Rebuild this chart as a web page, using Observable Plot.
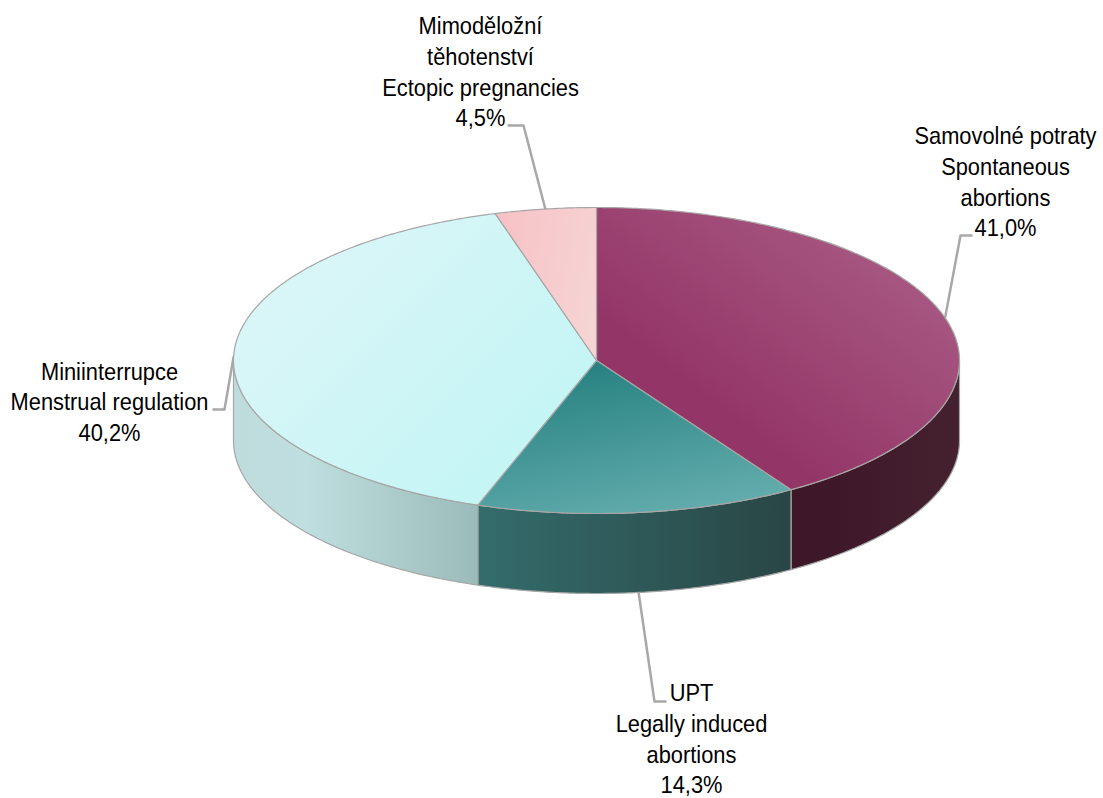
<!DOCTYPE html>
<html>
<head>
<meta charset="utf-8">
<style>html,body{margin:0;padding:0;background:#fff}svg{display:block}</style>
<script src="https://cdn.jsdelivr.net/npm/d3@7"></script>
<script src="https://cdn.jsdelivr.net/npm/@observablehq/plot@0.6"></script>
</head>
<body>
<div id="chart"></div>
<script>
// Data
const labels = [
  "Samovolné potraty\nSpontaneous\nabortions\n41,0%",
  "UPT\nLegally induced\nabortions\n14,3%",
  "Miniinterrupce\nMenstrual regulation\n40,2%",
  "Mimoděložní\ntěhotenství\nEctopic pregnancies\n4,5%"
];
const values = [41.0, 14.3, 40.2, 4.5];
const keys = ["maroon", "teal", "cyan", "pink"];

// Layout (pie geometry in chart pixels)
const cx = 596, cy = 360, rx = 363, ry = 153, depth = 80;
const labelX = [1005, 691, 109, 480];
const labelY = [180, 737, 400, 70];
const elbowX = [960, 654, 224, 523];
const elbowY = [235, 701, 409, 125];
const tailX = [971, 665, 213, 508];
const leaderOnSide = [false, true, false, false];
const textSqueeze = 0.91;

const total = d3.sum(values);
const px = a => cx + rx * Math.sin(a);
const py = a => cy - ry * Math.cos(a);
const toRad = v => (v / total) * 2 * Math.PI;

let acc = 0;
const slices = values.map((v, i) => {
  const a0 = toRad(acc); acc += v; const a1 = toRad(acc);
  return {key: keys[i], a0, a1, mid: (a0 + a1) / 2};
});

function arc(a0, a1, dy = 0) {
  const n = Math.max(2, Math.ceil((a1 - a0) / 0.01));
  return d3.range(n + 1).map(k => {
    const a = a0 + (a1 - a0) * k / n;
    return {x: px(a), y: py(a) + dy};
  });
}
function topFace(s) {
  const c = {x: cx, y: cy};
  return [c, ...arc(s.a0, s.a1), c];
}
function sideFace(s) {
  const a0 = Math.max(s.a0, Math.PI / 2), a1 = Math.min(s.a1, 3 * Math.PI / 2);
  if (a1 <= a0) return null;
  const t = arc(a0, a1), b = arc(a0, a1, depth).reverse();
  return [...t, ...b, t[0]];
}

const defs = () => d3.create("svg:defs").html(`
  <linearGradient id="top-maroon" x1="0.15" y1="0.95" x2="1" y2="0.1">
    <stop offset="0.25" stop-color="#943568"/><stop offset="0.8" stop-color="#a5557f"/></linearGradient>
  <linearGradient id="top-teal" x1="0.2" y1="0" x2="0.6" y2="1">
    <stop offset="0" stop-color="#237f7e"/><stop offset="1" stop-color="#62abac"/></linearGradient>
  <linearGradient id="top-cyan" x1="0" y1="0.1" x2="1" y2="0.9">
    <stop offset="0" stop-color="#def6f8"/><stop offset="0.8" stop-color="#c6f5f5"/></linearGradient>
  <linearGradient id="top-pink" x1="0" y1="0.3" x2="1" y2="0.6">
    <stop offset="0" stop-color="#f7c2c6"/><stop offset="1" stop-color="#f6d4d4"/></linearGradient>
  <linearGradient id="side-maroon" x1="0" y1="0" x2="1" y2="0">
    <stop offset="0.2" stop-color="#3e1728"/><stop offset="1" stop-color="#45212f"/></linearGradient>
  <linearGradient id="side-teal" x1="0" y1="0" x2="1" y2="0">
    <stop offset="0" stop-color="#346c6c"/><stop offset="1" stop-color="#294645"/></linearGradient>
  <linearGradient id="side-cyan" x1="0" y1="0" x2="1" y2="0">
    <stop offset="0" stop-color="#bfdcdd"/><stop offset="0.3" stop-color="#bfdedf"/><stop offset="1" stop-color="#9abbba"/></linearGradient>
`).node();

const face = (pts, fill, stroke) => Plot.line(pts, {
  x: "x", y: "y", fill, stroke, strokeWidth: 1.2, curve: "linear"
});

const leaders = slices.map((s, i) => [
  {x: px(s.mid), y: py(s.mid) + (leaderOnSide[i] ? depth : 0)},
  {x: elbowX[i], y: elbowY[i]},
  {x: tailX[i], y: elbowY[i]}
]);

const labelRows = labels.map((text, i) => ({text, x: labelX[i], y: labelY[i]}));

const chart = Plot.plot({
  width: 1103, height: 798,
  margin: 0,
  style: {background: "#fff"},
  x: {domain: [0, 1103], range: [0, 1103], axis: null},
  y: {domain: [0, 798], range: [0, 798], axis: null},
  marks: [
    defs,
    ...leaders.map(l => Plot.line(l, {x: "x", y: "y", stroke: "#a8a8a8", strokeWidth: 2.5, curve: "linear"})),
    ...slices.map(s => {
      const p = sideFace(s);
      return p ? face(p, `url(#side-${s.key})`, "#a6a6a6") : null;
    }),
    ...slices.map(s => face(topFace(s), `url(#top-${s.key})`, "#a6a6a6")),
    Plot.text(labelRows, {
      x: "x", y: "y", text: "text",
      fontFamily: "Liberation Sans", fontSize: 24, lineHeight: 1.28,
      fill: "#000", textAnchor: "middle", lineAnchor: "middle",
      render(index, scales, values, dimensions, context, next) {
        const g = next(index, scales, values, dimensions, context);
        d3.select(g).selectAll("text").attr("transform", function () {
          return `${this.getAttribute("transform") || ""} scale(${textSqueeze},1)`;
        });
        return g;
      }
    })
  ]
});
document.getElementById("chart").append(chart);
</script>
</body>
</html>
